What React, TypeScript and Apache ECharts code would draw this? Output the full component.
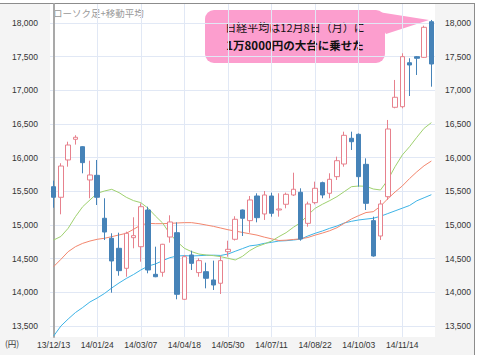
import React, { useEffect, useRef } from 'react';
import * as echarts from 'echarts';

const dates = [
  '13/12/13', '13/12/20', '13/12/27', '14/01/03', '14/01/10', '14/01/17', '14/01/24', '14/01/31',
  '14/02/07', '14/02/14', '14/02/21', '14/02/28', '14/03/07', '14/03/14', '14/03/21', '14/03/28',
  '14/04/04', '14/04/11', '14/04/18', '14/04/25', '14/05/02', '14/05/09', '14/05/16', '14/05/23',
  '14/05/30', '14/06/06', '14/06/13', '14/06/20', '14/06/27', '14/07/04', '14/07/11', '14/07/18',
  '14/07/25', '14/08/01', '14/08/08', '14/08/15', '14/08/22', '14/08/29', '14/09/05', '14/09/12',
  '14/09/19', '14/09/26', '14/10/03', '14/10/10', '14/10/17', '14/10/24', '14/10/31', '14/11/07',
  '14/11/14', '14/11/21', '14/11/28', '14/12/05', '14/12/12',
];

// [open, close, low, high]
const ohlc = [
  [15569, 15412, 15257, 15658], [15412, 15876, 15159, 15917], [15966, 16188, 15866, 16237],
  [16273, 16303, 16194, 16333], [16163, 15926, 15768, 16170], [15669, 15743, 15397, 15955],
  [15738, 15412, 15297, 15966], [15100, 14896, 14777, 15397], [14803, 14466, 13995, 14877],
  [14654, 14322, 14247, 14886], [14357, 14877, 14232, 14901], [14812, 14842, 14654, 15115],
  [14678, 15272, 14455, 15322], [15223, 14332, 14283, 15272], [14268, 14232, 14225, 14678],
  [14298, 14714, 14232, 14720], [14822, 15045, 14738, 15144], [14886, 13971, 13897, 15040],
  [13897, 14530, 13890, 14555], [14555, 14431, 14332, 14619], [14293, 14471, 14232, 14506],
  [14307, 14209, 14060, 14441], [14184, 14109, 14035, 14471], [14135, 14471, 13976, 14545],
  [14604, 14639, 14530, 14767], [14788, 15085, 14770, 15130], [15223, 15100, 14837, 15230],
  [15065, 15372, 14886, 15431], [15431, 15109, 15040, 15471], [15164, 15446, 15075, 15505],
  [15431, 15174, 15124, 15480], [15223, 15238, 15124, 15471], [15308, 15456, 15248, 15481],
  [15446, 15531, 15431, 15777], [15486, 14792, 14767, 15545], [15025, 15312, 14975, 15347],
  [15332, 15545, 15308, 15644], [15629, 15446, 15397, 15644], [15471, 15679, 15397, 15768],
  [15718, 15955, 15669, 16015], [15906, 16332, 15866, 16386], [16288, 16237, 16114, 16386],
  [16347, 15718, 15569, 16360], [15901, 15322, 15223, 15990], [15065, 14540, 14530, 15124],
  [14837, 15312, 14777, 15372], [15421, 16426, 15372, 16560], [16748, 16897, 16733, 17154],
  [16757, 17500, 16733, 17550], [17410, 17376, 16916, 17476], [17500, 17476, 17228, 17510],
  [17490, 17936, 17480, 17960], [18019, 17391, 17054, 18045],
];

const ma13 = [
  14777, 14830, 14951, 15124, 15272, 15372, 15471, 15505, 15530, 15481,
  15412, 15362, 15332, 15250, 15135, 15030, 14870, 14753, 14654, 14604,
  14569, 14555, 14545, 14530, 14506, 14481, 14535, 14620, 14680, 14718,
  14762, 14827, 14886, 14966, 15035, 15149, 15248, 15308, 15362, 15421,
  15495, 15569, 15579, 15575, 15535, 15520, 15669, 15866, 16040, 16163,
  16303, 16436, 16520,
];

const ma26 = [
  14382, 14490, 14604, 14678, 14728, 14762, 14788, 14803, 14827, 14852,
  14877, 14936, 15000, 15025, 15020, 15020, 15025, 15030, 15035, 15035,
  15020, 15000, 14980, 14955, 14930, 14910, 14890, 14870, 14850, 14820,
  14795, 14770, 14775, 14785, 14795, 14815, 14850, 14880, 14915, 14960,
  15025, 15090, 15140, 15185, 15198, 15280, 15390, 15490, 15580, 15690,
  15790, 15880, 15950,
];

const ma52 = [
  13351, 13500, 13604, 13700, 13775, 13857, 13916, 13983, 14065, 14139,
  14206, 14265, 14332, 14390, 14421, 14470, 14515, 14540, 14545, 14540,
  14545, 14550, 14552, 14548, 14569, 14610, 14650, 14690, 14703, 14728,
  14743, 14762, 14767, 14777, 14790, 14837, 14877, 14911, 14951, 14985,
  15030, 15055, 15075, 15088, 15100, 15130, 15170, 15210, 15250, 15290,
  15360, 15405, 15450,
];

const yTicks = [13500, 14000, 14500, 15000, 15500, 16000, 16500, 17000, 17500, 18000];
const xTickIdx = [0, 6, 12, 18, 24, 30, 36, 42, 48];

const titleText = 'ローソク足+移動平均';
const calloutLine1 = '日経平均は12月8日（月）に';
const calloutLine2 = '1万8000円の大台に乗せた';
const unitText = '(円)';

const LATIN = "'Liberation Sans', Arial, sans-serif";
const JP = "'Noto Sans CJK JP', sans-serif";

export default function App() {
  const ref = useRef<HTMLDivElement>(null);
  useEffect(() => {
    document.body.style.margin = '0';
    const chart = echarts.init(ref.current!, null, { renderer: 'svg' });
    const fmt = (v: number) => v.toLocaleString('en-US');
    const labelStyle = { fontSize: 8.5, color: '#333', fontFamily: LATIN };
    chart.setOption({
      animation: false,
      backgroundColor: '#f4f4f4',
      grid: {
        left: 50, right: 42, top: 4, bottom: 18,
        show: true, backgroundColor: '#ffffff', borderWidth: 0,
      },
      xAxis: [
        {
          type: 'category', data: dates, boundaryGap: true,
          axisLine: { show: false }, axisTick: { show: false }, splitLine: { show: false },
          axisLabel: { interval: 5, margin: 3, ...labelStyle },
        },
        {
          type: 'value', min: -0.5, max: 52.5, position: 'bottom',
          axisLine: { show: false }, axisLabel: { show: false },
          axisTick: { show: false, customValues: xTickIdx },
          splitLine: { show: true, lineStyle: { color: '#e1e8f5', width: 1 } },
        },
      ],
      yAxis: [
        {
          type: 'value', min: 13337, max: 18282, position: 'left',
          axisLine: { show: true, lineStyle: { color: '#a9a9a9', width: 2 } },
          axisTick: { show: false, customValues: yTicks },
          axisLabel: { customValues: yTicks, formatter: fmt, margin: 12, ...labelStyle },
          splitLine: { show: true, lineStyle: { color: '#e1e8f5', width: 1 } },
        },
        {
          type: 'value', min: 13337, max: 18282, position: 'right',
          axisLine: { show: false },
          axisTick: { show: false, customValues: yTicks },
          axisLabel: { customValues: yTicks, formatter: fmt, margin: 10, ...labelStyle },
          splitLine: { show: false },
        },
      ],
      series: [
        {
          type: 'line', data: ma52, symbol: 'none', z: 2,
          lineStyle: { color: '#3db3e6', width: 1 },
        },
        {
          type: 'line', data: ma26, symbol: 'none', z: 2,
          lineStyle: { color: '#f3866d', width: 1 },
        },
        {
          type: 'line', data: ma13, symbol: 'none', z: 2,
          lineStyle: { color: '#9fd16f', width: 1 },
        },
        {
          type: 'candlestick', data: ohlc, barWidth: 5, z: 3,
          itemStyle: {
            color: '#ffffff', color0: '#4683b8',
            borderColor: '#e7818d', borderColor0: '#4683b8', borderWidth: 1,
          },
        },
      ],
      graphic: [
        { type: 'rect', shape: { x: 0, y: 0, width: 477, height: 3 }, style: { fill: '#ffffff' }, silent: true },
        { type: 'rect', shape: { x: 475, y: 0, width: 2, height: 355 }, style: { fill: '#ffffff' }, silent: true },
        { type: 'line', shape: { x1: 0, y1: 3.5, x2: 475, y2: 3.5 }, style: { stroke: '#8c8c8c', lineWidth: 1 }, silent: true },
        { type: 'line', shape: { x1: 474.5, y1: 3, x2: 474.5, y2: 355 }, style: { stroke: '#8c8c8c', lineWidth: 1 }, silent: true },
        {
          type: 'text', x: 53, y: 8,
          style: { text: titleText, fontSize: 9.5, fill: '#999999', fontFamily: JP },
          silent: true,
        },
        {
          type: 'text', x: 5, y: 339,
          style: { text: unitText, fontSize: 8.5, fill: '#333333', fontFamily: JP },
          silent: true,
        },
        {
          type: 'group', z: 20,
          children: [
            {
              type: 'polygon',
              shape: { points: [[372, 11], [429, 20], [386, 34]] },
              style: { fill: '#fc9ece' },
            },
            {
              type: 'rect',
              shape: { x: 205, y: 10, width: 180, height: 53, r: 9 },
              style: { fill: '#fc9ece' },
            },
            {
              type: 'text', x: 295, y: 27,
              style: {
                text: calloutLine1, fontSize: 11, fill: '#111', fontFamily: JP,
                align: 'center', verticalAlign: 'middle',
              },
            },
            {
              type: 'text', x: 295, y: 45,
              style: {
                text: calloutLine2, fontSize: 11.5, fontWeight: 'bold', fill: '#111', fontFamily: JP,
                align: 'center', verticalAlign: 'middle',
              },
            },
          ],
        },
      ],
    });
    return () => chart.dispose();
  }, []);
  return <div ref={ref} style={{ width: 477, height: 355 }} />;
}
